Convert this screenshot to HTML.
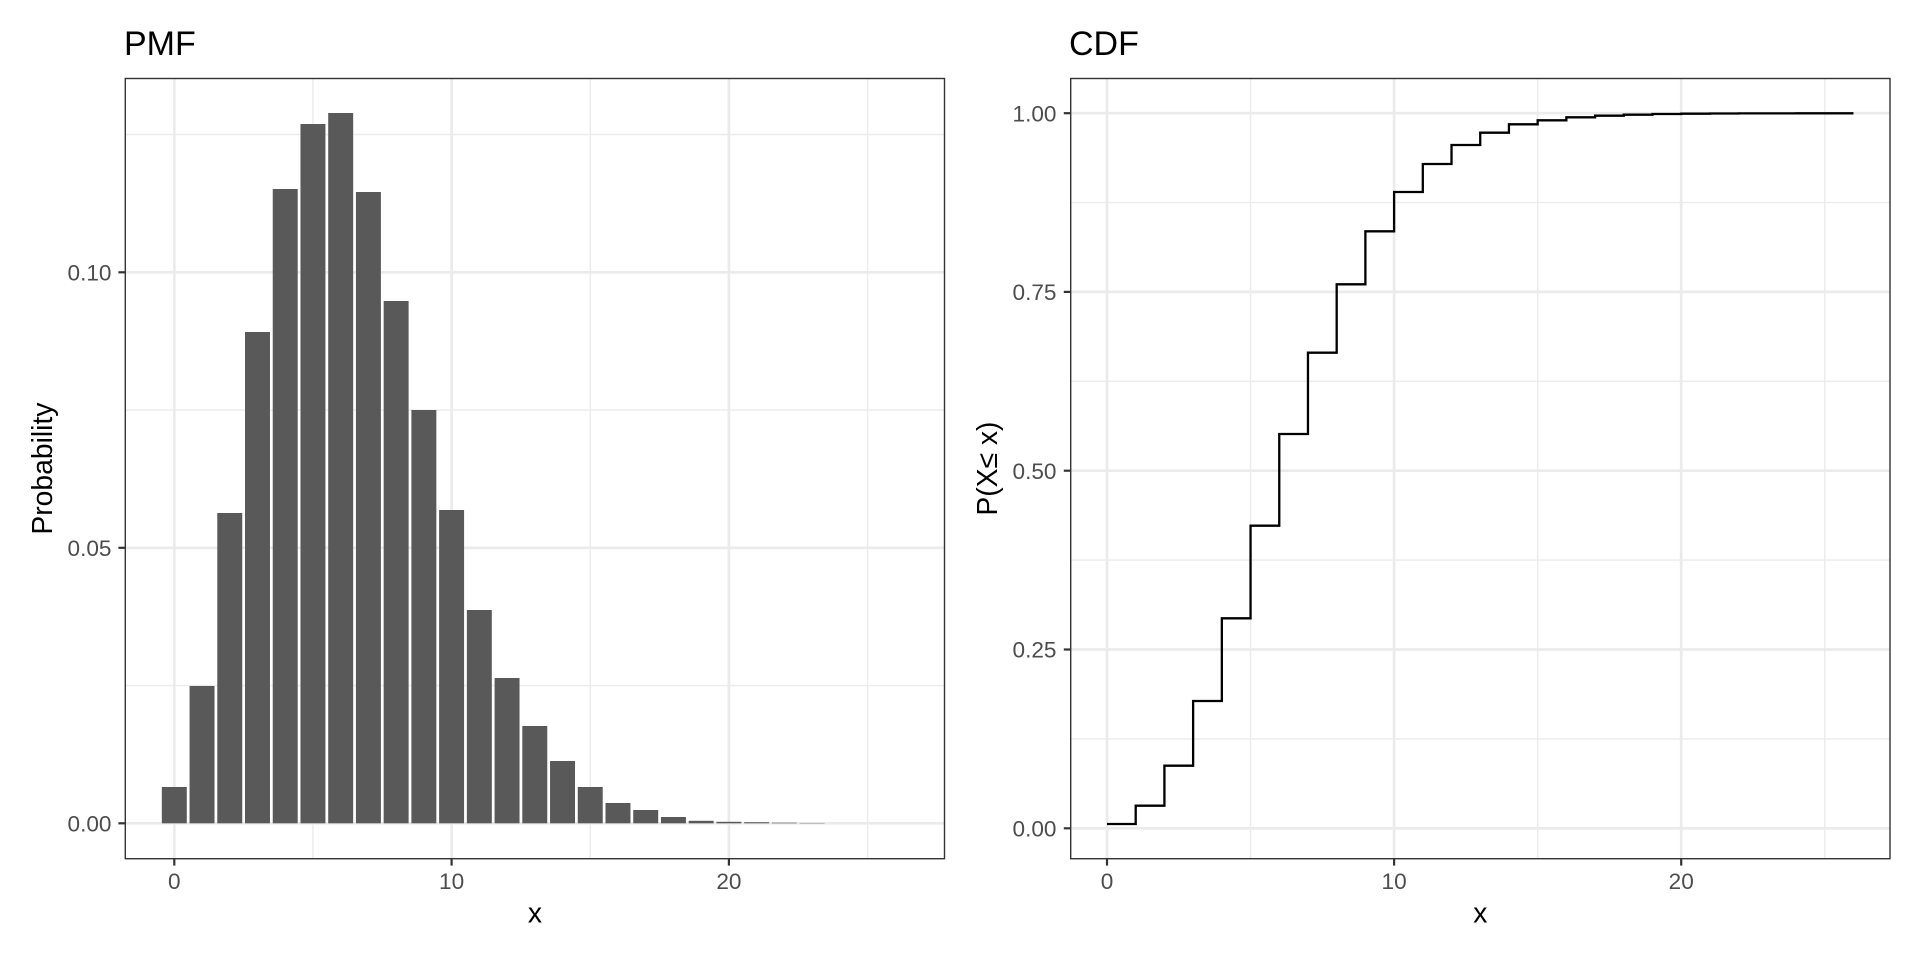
<!DOCTYPE html>
<html>
<head>
<meta charset="utf-8">
<style>
html,body{margin:0;padding:0;background:#fff;}
svg{display:block;}
text{font-family:"Liberation Sans", Arial, sans-serif;}
</style>
</head>
<body>
<svg width="1920" height="960" viewBox="0 0 1920 960" xmlns="http://www.w3.org/2000/svg">
<rect x="0" y="0" width="1920" height="960" fill="#fff"/>

<!-- ================= PMF PANEL ================= -->
<g>
  <!-- minor gridlines -->
  <g stroke="#EBEBEB" stroke-width="1.35" fill="none">
    <line x1="125.3" x2="944.5" y1="685.55" y2="685.55"/>
    <line x1="125.3" x2="944.5" y1="410.05" y2="410.05"/>
    <line x1="125.3" x2="944.5" y1="134.55" y2="134.55"/>
    <line x1="312.95" x2="312.95" y1="78.5" y2="858.7"/>
    <line x1="590.25" x2="590.25" y1="78.5" y2="858.7"/>
    <line x1="867.55" x2="867.55" y1="78.5" y2="858.7"/>
  </g>
  <!-- major gridlines -->
  <g stroke="#EBEBEB" stroke-width="2.7" fill="none">
    <line x1="125.3" x2="944.5" y1="823.3" y2="823.3"/>
    <line x1="125.3" x2="944.5" y1="547.8" y2="547.8"/>
    <line x1="125.3" x2="944.5" y1="272.3" y2="272.3"/>
    <line x1="174.3" x2="174.3" y1="78.5" y2="858.7"/>
    <line x1="451.6" x2="451.6" y1="78.5" y2="858.7"/>
    <line x1="728.9" x2="728.9" y1="78.5" y2="858.7"/>
  </g>
  <!-- bars -->
  <g fill="#595959">
    <rect x="161.82" y="787.0" width="24.96" height="36.3"/>
    <rect x="189.55" y="686.0" width="24.96" height="137.3"/>
    <rect x="217.28" y="513.0" width="24.96" height="310.3"/>
    <rect x="245.01" y="332.0" width="24.96" height="491.3"/>
    <rect x="272.74" y="189.0" width="24.96" height="634.3"/>
    <rect x="300.47" y="124.0" width="24.96" height="699.3"/>
    <rect x="328.20" y="113.0" width="24.96" height="710.3"/>
    <rect x="355.93" y="192.0" width="24.96" height="631.3"/>
    <rect x="383.66" y="301.0" width="24.96" height="522.3"/>
    <rect x="411.39" y="410.0" width="24.96" height="413.3"/>
    <rect x="439.12" y="510.0" width="24.96" height="313.3"/>
    <rect x="466.85" y="610.0" width="24.96" height="213.3"/>
    <rect x="494.58" y="678.0" width="24.96" height="145.3"/>
    <rect x="522.31" y="726.0" width="24.96" height="97.3"/>
    <rect x="550.04" y="761.0" width="24.96" height="62.3"/>
    <rect x="577.77" y="787.0" width="24.96" height="36.3"/>
    <rect x="605.50" y="803.0" width="24.96" height="20.3"/>
    <rect x="633.23" y="810.0" width="24.96" height="13.3"/>
    <rect x="660.96" y="817.0" width="24.96" height="6.3"/>
    <rect x="688.69" y="820.8" width="24.96" height="2.5"/>
    <rect x="716.42" y="821.8" width="24.96" height="1.5"/>
    <rect x="744.15" y="822.2" width="24.96" height="1.1"/>
    <rect x="771.88" y="822.7" width="24.96" height="0.6"/>
    <rect x="799.61" y="822.95" width="24.96" height="0.35"/>
  </g>
  <!-- panel border -->
  <rect x="125.3" y="78.5" width="819.2" height="780.2" fill="none" stroke="#333333" stroke-width="1.4"/>
  <!-- ticks -->
  <g stroke="#333333" stroke-width="2.2">
    <line x1="118.4" x2="125.3" y1="823.3" y2="823.3"/>
    <line x1="118.4" x2="125.3" y1="547.8" y2="547.8"/>
    <line x1="118.4" x2="125.3" y1="272.3" y2="272.3"/>
    <line x1="174.3" x2="174.3" y1="858.7" y2="865.6"/>
    <line x1="451.6" x2="451.6" y1="858.7" y2="865.6"/>
    <line x1="728.9" x2="728.9" y1="858.7" y2="865.6"/>
  </g>
  <!-- tick labels -->
  <g fill="#4D4D4D" font-size="22.6">
    <text x="111.5" y="831.5" text-anchor="end">0.00</text>
    <text x="111.5" y="556.0" text-anchor="end">0.05</text>
    <text x="111.5" y="280.5" text-anchor="end">0.10</text>
    <text x="174.3" y="889" text-anchor="middle">0</text>
    <text x="451.6" y="889" text-anchor="middle">10</text>
    <text x="728.9" y="889" text-anchor="middle">20</text>
  </g>
  <!-- axis titles -->
  <text x="534.9" y="922.5" text-anchor="middle" font-size="28.3" fill="#000">x</text>
  <text transform="translate(52,468.6) rotate(-90)" text-anchor="middle" font-size="28.3" fill="#000">Probability</text>
  <!-- title -->
  <text x="124" y="55" font-size="34" fill="#000">PMF</text>
</g>

<!-- ================= CDF PANEL ================= -->
<g>
  <!-- minor gridlines -->
  <g stroke="#EBEBEB" stroke-width="1.35" fill="none">
    <line x1="1070.7" x2="1890" y1="738.9" y2="738.9"/>
    <line x1="1070.7" x2="1890" y1="560.1" y2="560.1"/>
    <line x1="1070.7" x2="1890" y1="381.3" y2="381.3"/>
    <line x1="1070.7" x2="1890" y1="202.5" y2="202.5"/>
    <line x1="1250.55" x2="1250.55" y1="78.5" y2="858.7"/>
    <line x1="1537.65" x2="1537.65" y1="78.5" y2="858.7"/>
    <line x1="1824.75" x2="1824.75" y1="78.5" y2="858.7"/>
  </g>
  <!-- major gridlines -->
  <g stroke="#EBEBEB" stroke-width="2.7" fill="none">
    <line x1="1070.7" x2="1890" y1="828.3" y2="828.3"/>
    <line x1="1070.7" x2="1890" y1="649.5" y2="649.5"/>
    <line x1="1070.7" x2="1890" y1="470.7" y2="470.7"/>
    <line x1="1070.7" x2="1890" y1="291.9" y2="291.9"/>
    <line x1="1070.7" x2="1890" y1="113.2" y2="113.2"/>
    <line x1="1107" x2="1107" y1="78.5" y2="858.7"/>
    <line x1="1394.1" x2="1394.1" y1="78.5" y2="858.7"/>
    <line x1="1681.2" x2="1681.2" y1="78.5" y2="858.7"/>
  </g>
  <!-- step line -->
  <path fill="none" stroke="#000" stroke-width="2.3" stroke-linejoin="miter"
    d="M1107,824.0 H1135.71 V805.7 H1164.42 V765.7 H1193.13 V701.0 H1221.84 V618.3 H1250.55 V525.7 H1279.26 V434.0 H1307.97 V352.7 H1336.68 V284.3 H1365.39 V231.3 H1394.1 V192.0 H1422.81 V164.0 H1451.52 V145.0 H1480.23 V132.7 H1508.94 V124.3 H1537.65 V120.3 H1566.36 V117.3 H1595.07 V115.7 H1623.78 V114.7 H1652.49 V114.0 H1681.2 V113.7 H1709.91 V113.5 H1738.62 V113.4 H1767.33 V113.35 H1796.04 V113.3 H1824.75 V113.3 H1853.46"/>
  <!-- panel border -->
  <rect x="1070.7" y="78.5" width="819.3" height="780.2" fill="none" stroke="#333333" stroke-width="1.4"/>
  <!-- ticks -->
  <g stroke="#333333" stroke-width="2.2">
    <line x1="1063.8" x2="1070.7" y1="828.3" y2="828.3"/>
    <line x1="1063.8" x2="1070.7" y1="649.5" y2="649.5"/>
    <line x1="1063.8" x2="1070.7" y1="470.7" y2="470.7"/>
    <line x1="1063.8" x2="1070.7" y1="291.9" y2="291.9"/>
    <line x1="1063.8" x2="1070.7" y1="113.2" y2="113.2"/>
    <line x1="1107" x2="1107" y1="858.7" y2="865.6"/>
    <line x1="1394.1" x2="1394.1" y1="858.7" y2="865.6"/>
    <line x1="1681.2" x2="1681.2" y1="858.7" y2="865.6"/>
  </g>
  <!-- tick labels -->
  <g fill="#4D4D4D" font-size="22.6">
    <text x="1056.5" y="836.5" text-anchor="end">0.00</text>
    <text x="1056.5" y="657.7" text-anchor="end">0.25</text>
    <text x="1056.5" y="478.9" text-anchor="end">0.50</text>
    <text x="1056.5" y="300.1" text-anchor="end">0.75</text>
    <text x="1056.5" y="121.4" text-anchor="end">1.00</text>
    <text x="1107" y="889" text-anchor="middle">0</text>
    <text x="1394.1" y="889" text-anchor="middle">10</text>
    <text x="1681.2" y="889" text-anchor="middle">20</text>
  </g>
  <!-- axis titles -->
  <text x="1480.3" y="922.5" text-anchor="middle" font-size="28.3" fill="#000">x</text>
  <text transform="translate(997,468.6) rotate(-90)" text-anchor="middle" font-size="28.3" fill="#000">P(X≤ x)</text>
  <!-- title -->
  <text x="1069" y="55" font-size="34" fill="#000">CDF</text>
</g>
</svg>
</body>
</html>
